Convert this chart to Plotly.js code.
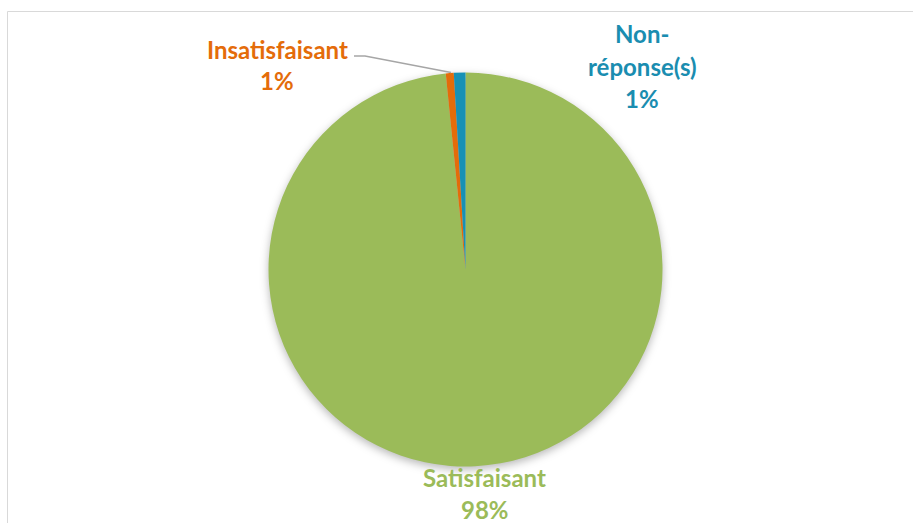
<!DOCTYPE html>
<html>
<head>
<meta charset="utf-8">
<script src="https://cdn.plot.ly/plotly-3.0.1.min.js"></script>
<style>
  html, body { margin: 0; padding: 0; background: #fff; }
  #chart { width: 913px; height: 523px; }
  .pielayer .trace { filter: drop-shadow(0px 3px 4px rgba(0,0,0,0.28)); }
</style>
</head>
<body>
<div id="chart"></div>
<script>
// Data
var labels = ['Satisfaisant', 'Insatisfaisant', 'Non-réponse(s)'];
var values = [98.4, 0.65, 0.95];
var colors = ['#9BBB59', '#E46C0A', '#1791B5'];
var textColors = ['#9BBB59', '#E46C0A', '#1A8DB0'];

var W = 913, H = 523;
function px(x) { return x / W; }
function py(y) { return 1 - y / H; }

var total = values.reduce(function (a, b) { return a + b; }, 0);

// label layout (pixel centers of each text line)
var labelPos = [
  { x: 485, ys: [477, 509] },
  { x: 277, ys: [49, 81] },
  { x: 642, ys: [34, 66, 98] }
];

var annotations = [];
labels.forEach(function (lab, i) {
  var pct = Math.round(values[i] / total * 100) + '%';
  var lines = lab.indexOf('-') >= 0 ? [lab.split('-')[0] + '-', lab.split('-').slice(1).join('-'), pct] : [lab, pct];
  lines.forEach(function (t, j) {
    annotations.push({
      text: t, xref: 'paper', yref: 'paper',
      x: px(labelPos[i].x), y: py(labelPos[i].ys[j]),
      xanchor: 'center', yanchor: 'middle', showarrow: false,
      font: { family: 'Lato, "Open Sans", sans-serif', size: 24, weight: 'bold', color: textColors[i] }
    });
  });
});

var trace = {
  type: 'pie',
  labels: labels,
  values: values,
  sort: false,
  direction: 'clockwise',
  rotation: 0,
  textinfo: 'none',
  hoverinfo: 'label+percent',
  marker: { colors: colors, line: { width: 0 } },
  domain: { x: [px(268.5), px(662.5)], y: [py(466.5), py(72.5)] },
  showlegend: false
};

var layout = {
  width: W, height: H,
  margin: { l: 0, r: 0, t: 0, b: 0 },
  paper_bgcolor: '#ffffff',
  showlegend: false,
  annotations: annotations,
  shapes: [
    { type: 'rect', xref: 'paper', yref: 'paper',
      x0: px(7.5), x1: px(930), y0: py(540), y1: py(11.5),
      line: { color: '#D9D9D9', width: 1 }, fillcolor: 'rgba(0,0,0,0)' },
    { type: 'path', xref: 'paper', yref: 'paper',
      path: 'M ' + px(354) + ' ' + py(56) + ' L ' + px(365) + ' ' + py(56) + ' L ' + px(451) + ' ' + py(72.5),
      line: { color: '#A6A6A6', width: 1.5 } }
  ]
};

Plotly.newPlot('chart', [trace], layout, { displayModeBar: false, staticPlot: true });
</script>
</body>
</html>
